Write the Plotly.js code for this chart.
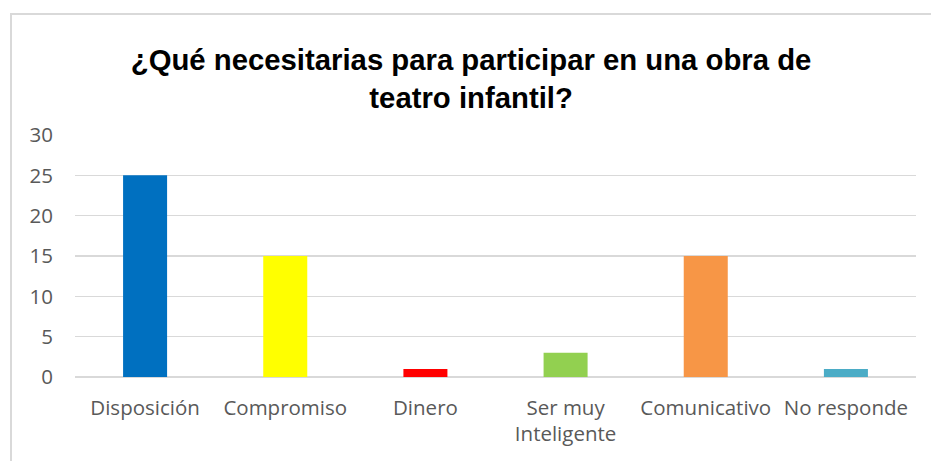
<!DOCTYPE html>
<html><head><meta charset="utf-8">
<script src="https://cdn.plot.ly/plotly-3.0.1.min.js"></script>
<style>
html,body{margin:0;padding:0;background:#fff;overflow:hidden}
#chart{width:931px;height:461px;position:absolute;left:0;top:0}
#frame{position:absolute;left:10px;top:13px;width:940px;height:470px;border:2px solid #d9d9d9;pointer-events:none}
</style></head>
<body>
<div id="chart"></div>
<div id="frame"></div>
<script>
const categories = ["Disposición","Compromiso","Dinero","Ser muy<br>Inteligente","Comunicativo","No responde"];
const values = [25, 15, 1, 3, 15, 1];
const colors = ["#0070c0","#ffff00","#ff0000","#92d050","#f79646","#4bacc6"];
const yTicks = [0,5,10,15,20,25,30];

Plotly.newPlot("chart", [{
  type: "bar",
  x: categories,
  y: values,
  marker: {color: colors},
  hoverinfo: "none"
}], {
  width: 931, height: 461,
  margin: {l: 75, r: 15, t: 135, b: 84},
  paper_bgcolor: "rgba(0,0,0,0)",
  plot_bgcolor: "#fff",
  bargap: 0.686,
  title: {
    text: "<b>¿Qué necesitarias para participar en una obra de<br>teatro infantil?</b>",
    font: {family: "Liberation Sans, Arial, sans-serif", size: 29.3, color: "#000"},
    x: 0.506, xanchor: "center", y: 0.849, yanchor: "middle"
  },
  xaxis: {
    type: "category",
    tickfont: {family: "Open Sans, sans-serif", size: 20.5, color: "#595959"},
    showgrid: false, showline: false, ticks: "", zeroline: false,
    ticklabelstandoff: 16
  },
  yaxis: {
    range: [0, 30], tickvals: yTicks, ticktext: yTicks.map(String),
    tickfont: {family: "Open Sans, sans-serif", size: 20.5, color: "#595959"},
    gridcolor: "#d9d9d9", gridwidth: 1.3, zeroline: true, zerolinecolor: "#d9d9d9", zerolinewidth: 1.5,
    showline: false, ticks: "", ticklabelstandoff: 21
  },
  showlegend: false
}, {displayModeBar: false, staticPlot: true});
</script>
</body></html>
